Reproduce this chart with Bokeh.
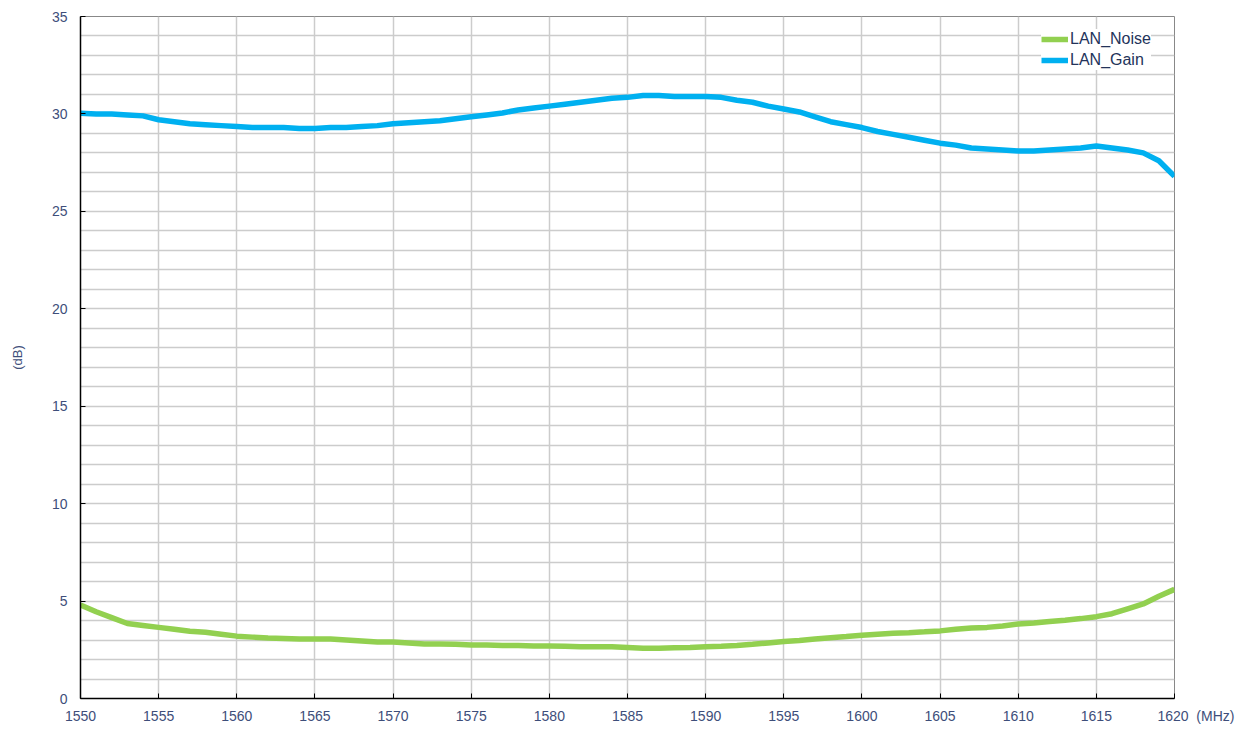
from bokeh.plotting import figure
from bokeh.models import Legend, LegendItem, FixedTicker, Range1d
from bokeh.embed import file_html
from bokeh.resources import INLINE

freq = list(range(1550, 1621))

gain = [30.04, 30.0, 30.0, 29.95, 29.9, 29.7, 29.6, 29.5, 29.45, 29.4,
        29.35, 29.3, 29.3, 29.3, 29.25, 29.25, 29.3, 29.3, 29.35, 29.4,
        29.5, 29.55, 29.6, 29.65, 29.75, 29.85, 29.95, 30.05, 30.2, 30.3,
        30.4, 30.5, 30.6, 30.7, 30.8, 30.85, 30.95, 30.95, 30.9, 30.9,
        30.9, 30.85, 30.7, 30.6, 30.4, 30.25, 30.1, 29.85, 29.6, 29.45,
        29.3, 29.1, 28.95, 28.8, 28.65, 28.5, 28.4, 28.25, 28.2, 28.15,
        28.1, 28.1, 28.15, 28.2, 28.25, 28.35, 28.25, 28.15, 28.0, 27.6,
        26.8]

noise = [4.8, 4.45, 4.15, 3.85, 3.75, 3.65, 3.55, 3.45, 3.4, 3.3,
         3.2, 3.15, 3.1, 3.08, 3.05, 3.05, 3.05, 3.0, 2.95, 2.9,
         2.9, 2.85, 2.8, 2.8, 2.78, 2.75, 2.75, 2.72, 2.72, 2.7,
         2.7, 2.68, 2.65, 2.65, 2.65, 2.62, 2.58, 2.58, 2.6, 2.62,
         2.65, 2.68, 2.72, 2.78, 2.85, 2.92, 2.98, 3.05, 3.12, 3.18,
         3.25, 3.3, 3.35, 3.38, 3.42, 3.47, 3.55, 3.62, 3.65, 3.72,
         3.82, 3.88, 3.95, 4.02, 4.1, 4.2, 4.35, 4.6, 4.85, 5.25,
         5.6]

x_ticks = list(range(1550, 1621, 5))
y_ticks = list(range(0, 36, 5))
x_unit = "(MHz)"
y_unit = "(dB)"

FONT = "Liberation Sans"
TICK_COLOR = "#3E4E7A"
NBSP = "\u00a0"

p = figure(width=1238, height=726, output_backend="svg", toolbar_location=None,
           x_range=Range1d(1550, 1620), y_range=Range1d(0, 35),
           min_border_left=80, min_border_right=64, min_border_top=16,
           min_border_bottom=26)

p.xaxis.ticker = FixedTicker(ticks=x_ticks)
p.yaxis.ticker = FixedTicker(ticks=y_ticks, minor_ticks=list(range(0, 36)))
p.xgrid.ticker = FixedTicker(ticks=x_ticks)
p.ygrid.ticker = FixedTicker(ticks=list(range(0, 36)))
p.xgrid.grid_line_color = "#CCCCCC"
p.ygrid.grid_line_color = "#CCCCCC"
p.xgrid.grid_line_width = 1.5
p.ygrid.grid_line_width = 1.5

for ax in (p.xaxis, p.yaxis):
    ax.axis_line_color = "black"
    ax.axis_line_width = 1.5
    ax.major_tick_in = 5
    ax.major_tick_out = 0
    ax.minor_tick_in = 0
    ax.minor_tick_out = 0
    ax.major_tick_line_color = "black"
    ax.major_label_text_font = FONT
    ax.major_label_text_font_size = "14px"
    ax.major_label_text_color = TICK_COLOR

# last x tick label carries the unit, padded so "1620" stays centred on its tick
last = x_ticks[-1]
p.xaxis.major_label_overrides = {
    last: NBSP * 11 + str(last) + NBSP * 2 + x_unit
}

p.yaxis.major_label_standoff = 13
p.xaxis.major_label_standoff = 9
p.yaxis.axis_label = y_unit
p.yaxis.axis_label_text_font = FONT
p.yaxis.axis_label_text_font_style = "normal"
p.yaxis.axis_label_text_font_size = "13px"
p.yaxis.axis_label_text_color = TICK_COLOR
p.yaxis.axis_label_standoff = 24

p.outline_line_color = "#888888"
p.outline_line_width = 1

r_noise = p.line(freq, noise, line_color="#92D050", line_width=5.5)
r_gain = p.line(freq, gain, line_color="#00B0F0", line_width=5.5)

legend = Legend(items=[LegendItem(label="LAN_Noise", renderers=[r_noise]),
                       LegendItem(label="LAN_Gain", renderers=[r_gain])],
                location=(961, 628))
legend.label_text_font = FONT
legend.label_text_font_size = "16px"
legend.label_text_color = "#23335A"
legend.border_line_color = None
legend.background_fill_color = "white"
legend.background_fill_alpha = 1
legend.glyph_width = 27
legend.glyph_height = 20
legend.label_standoff = 2
legend.label_height = 20
legend.spacing = 1
legend.padding = 4
legend.margin = 0
p.add_layout(legend)

open("out.html", "w").write(file_html(p, INLINE))
